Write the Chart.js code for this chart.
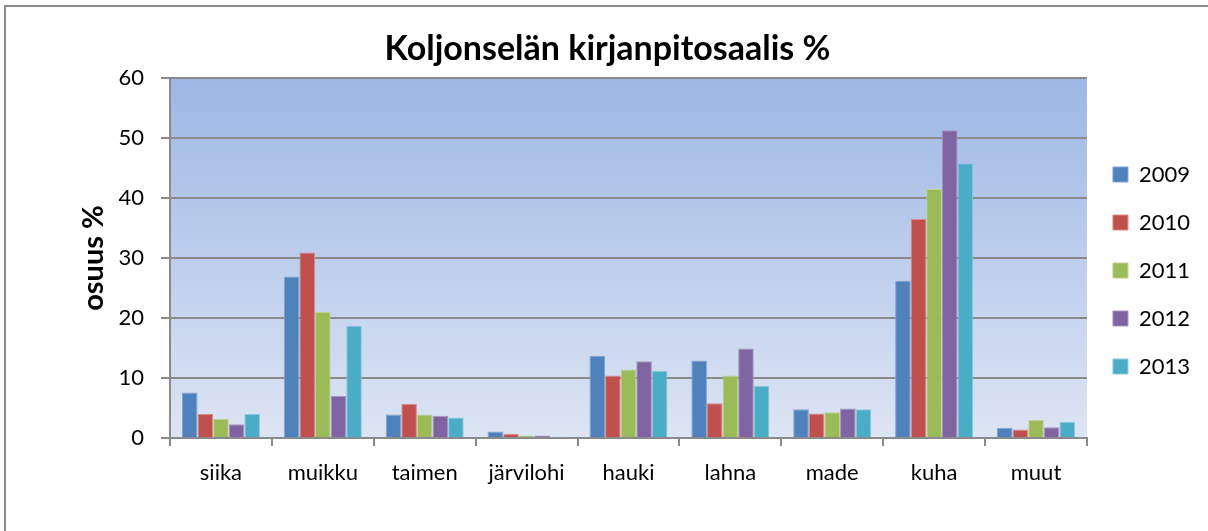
<!DOCTYPE html>
<html lang="fi">
<head>
<meta charset="utf-8">
<title>Koljonselän kirjanpitosaalis %</title>
<script src="https://cdn.jsdelivr.net/npm/chart.js@4/dist/chart.umd.min.js"></script>
<style>
  html, body { margin: 0; padding: 0; background: #fff; }
  #wrap { width: 1208px; height: 531px; }
</style>
</head>
<body>
<div id="wrap"><canvas id="chart" width="1208" height="531"></canvas></div>
<script>
// Kalalajit ja osuudet vuosittain (%)
const categories = ["siika", "muikku", "taimen", "järvilohi", "hauki", "lahna", "made", "kuha", "muut"];
const years = ["2009", "2010", "2011", "2012", "2013"];
const v2009 = [7.6, 26.9, 3.9, 1.1, 13.7, 12.9, 4.8, 26.2, 1.7];
const v2010 = [4.0, 30.9, 5.7, 0.7, 10.4, 5.8, 4.1, 36.5, 1.4];
const v2011 = [3.2, 21.0, 3.9, 0.4, 11.4, 10.4, 4.3, 41.5, 3.0];
const v2012 = [2.3, 7.0, 3.7, 0.4, 12.8, 14.9, 4.9, 51.3, 1.8];
const v2013 = [4.0, 18.7, 3.4, 0.1, 11.2, 8.7, 4.8, 45.8, 2.7];

const FONT = "Lato, 'Liberation Sans', sans-serif";
const GRID = "#8a8a8a";
const fills   = ["#4f81bd", "#c0504d", "#9bbb59", "#8064a2", "#4bacc6"];
const borders = ["#7fa3d1", "#d98a88", "#bcd38e", "#a892c2", "#8ccadb"];
const series  = [v2009, v2010, v2011, v2012, v2013];

// valkoinen tausta, kehys ja liukuväri piirtoalueelle
const backdrop = {
  id: "backdrop",
  beforeDraw(chart) {
    const { ctx, chartArea: a } = chart;
    ctx.save();
    ctx.fillStyle = "#fff";
    ctx.fillRect(0, 0, chart.width, chart.height);
    ctx.strokeStyle = GRID;
    ctx.lineWidth = 2;
    ctx.beginPath();
    ctx.moveTo(5, chart.height + 2);
    ctx.lineTo(5, 6);
    ctx.lineTo(chart.width + 2, 6);
    ctx.stroke();
    const g = ctx.createLinearGradient(0, a.top, 0, a.bottom);
    g.addColorStop(0, "#9db7e4");
    g.addColorStop(1, "#dde5f4");
    ctx.fillStyle = g;
    ctx.fillRect(a.left, a.top, a.right - a.left, a.bottom - a.top);
    ctx.restore();
  },
};

new Chart(document.getElementById("chart"), {
  type: "bar",
  data: {
    labels: categories,
    datasets: years.map((y, i) => ({
      label: y,
      data: series[i],
      backgroundColor: fills[i],
      borderColor: borders[i],
      borderWidth: 1,
      categoryPercentage: 0.766,
      barPercentage: 1,
    })),
  },
  options: {
    responsive: false,
    animation: false,
    layout: { padding: { left: 15, top: 0, right: 8, bottom: 0 } },
    plugins: {
      title: {
        display: true,
        text: "Koljonselän kirjanpitosaalis %",
        color: "#000",
        font: { family: FONT, size: 34, weight: "bold", lineHeight: 1.2 },
        padding: { top: 29, bottom: 8.2 },
      },
      legend: {
        position: "right",
        title: { display: true, text: " ", color: "rgba(0,0,0,0)",
                 font: { family: FONT, size: 5, lineHeight: 2 }, padding: 0 },
        labels: {
          color: "#000",
          font: { family: FONT, size: 22 },
          boxWidth: 15, boxHeight: 15,
          padding: 26,
        },
      },
      tooltip: { enabled: false },
    },
    scales: {
      x: {
        offset: true,
        afterFit(scale) { scale.height = 93; },
        grid: { offset: true, drawOnChartArea: false, drawTicks: true, tickLength: 8,
                color: GRID, lineWidth: 2 },
        border: { color: GRID, width: 2 },
        ticks: { color: "#000", font: { family: FONT, size: 22 }, padding: 14, maxRotation: 0 },
      },
      y: {
        min: 0, max: 60,
        afterFit(scale) { scale.width = 155; },
        grid: { color: GRID, lineWidth: 2, tickLength: 9 },
        border: { color: GRID, width: 2 },
        ticks: { stepSize: 10, color: "#000", font: { family: FONT, size: 22 }, padding: 17 },
        title: {
          display: true, text: "osuus %", color: "#000",
          font: { family: FONT, size: 29, weight: "bold", lineHeight: 1.2 },
          padding: { top: 61, bottom: 0 },
        },
      },
    },
  },
  plugins: [backdrop],
});
</script>
</body>
</html>
